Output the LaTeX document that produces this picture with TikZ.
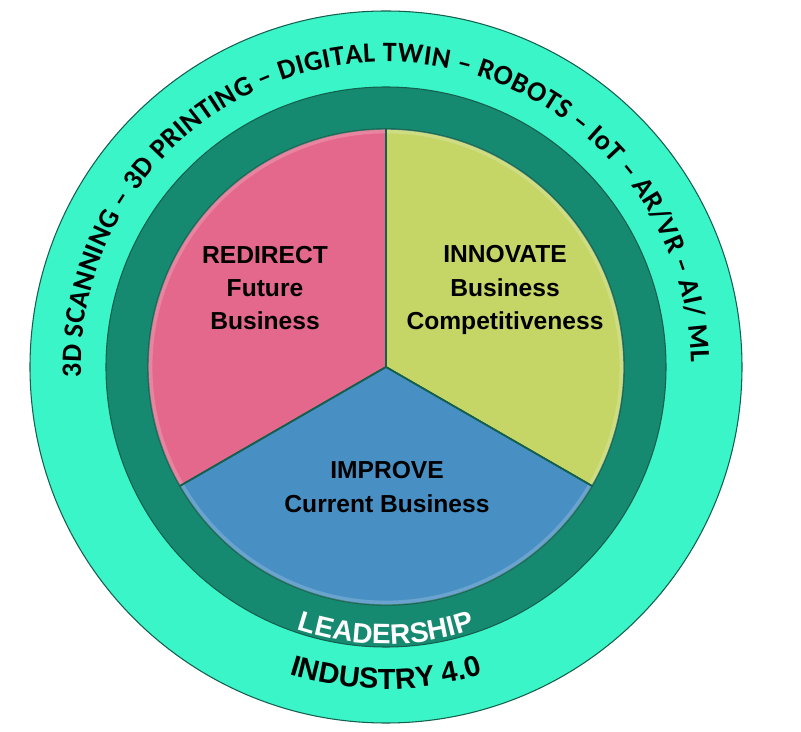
\documentclass[tikz,border=0pt]{standalone}
\usepackage{fontspec}
\setmainfont{Liberation Sans}
\newfontfamily\techfont{Carlito}
\usepackage{xcolor}
\usetikzlibrary{decorations.text, positioning}
\definecolor{ringlight}{RGB}{58,245,200}
\definecolor{ringdark}{RGB}{22,138,112}
\definecolor{rimline}{RGB}{20,95,78}
\definecolor{redirectpink}{RGB}{228,104,140}
\definecolor{innovategreen}{RGB}{197,214,103}
\definecolor{improveblue}{RGB}{72,143,196}
\tikzset{
  sectorlabel/.style={
    align=center, text=black, font=\bfseries\fontsize{14}{19}\selectfont
  },
  wedge/.style={
    draw=rimline, line width=0.8pt
  },
  bevel/.style={
    draw=white, line width=5pt, opacity=0.18
  }
}

\begin{document}
\begin{tikzpicture}
  \useasboundingbox[fill=white] (-7.72,-7.30) rectangle (8.30,7.34);
  \coordinate (c) at (0,0);
  % rings
  \draw[fill=ringlight, draw=rimline, line width=0.6pt] (c) circle[radius=7.12];
  \draw[fill=ringdark, draw=rimline, line width=0.6pt] (c) circle[radius=5.60];
  % the three sectors
  \draw[wedge, fill=redirectpink] (c) -- (90:4.76) arc[start angle=90, end angle=210, radius=4.76] -- cycle;
  \draw[wedge, fill=innovategreen] (c) -- (-30:4.76) arc[start angle=-30, end angle=90, radius=4.76] -- cycle;
  \draw[wedge, fill=improveblue] (c) -- (210:4.76) arc[start angle=210, end angle=330, radius=4.76] -- cycle;
  \begin{scope}
    \clip (c) circle[radius=4.76];
    \draw[bevel] (c) circle[radius=4.76];
  \end{scope}
  \draw[rimline, line width=1pt] (c) -- (90:4.76) (c) -- (210:4.76) (c) -- (-30:4.76);

  \node[sectorlabel] (redirect) at (-2.42,1.58) {REDIRECT\\Future\\Business};
  \node[sectorlabel] (innovate) at (2.38,1.54) {INNOVATE\\Business\\Competitiveness};
  \node[sectorlabel] (improve) at (0.02,-2.40) {IMPROVE\\Current Business};

  % curved texts
  \path[decorate, decoration={text along path, text align={fit to path},
      text={|\techfont\bfseries\fontsize{16}{16}\selectfont|3D SCANNING – 3D PRINTING – DIGITAL TWIN – ROBOTS – IoT – AR/VR – AI/ ML}}]
    (182:6.10) arc[start angle=182, end angle=1, radius=6.10];
  \path[decorate, decoration={text along path, text align=center,
      text color=white, text={|\bfseries\fontsize{16}{16}\selectfont|LEADERSHIP}}]
    (235:5.54) arc[start angle=235, end angle=305, radius=5.54];
  \path[decorate, decoration={text along path, text align=center,
      text={|\bfseries\fontsize{16.5}{16.5}\selectfont|INDUSTRY 4.0}}]
    (235:6.44) arc[start angle=235, end angle=305, radius=6.44];
\end{tikzpicture}
\end{document}
